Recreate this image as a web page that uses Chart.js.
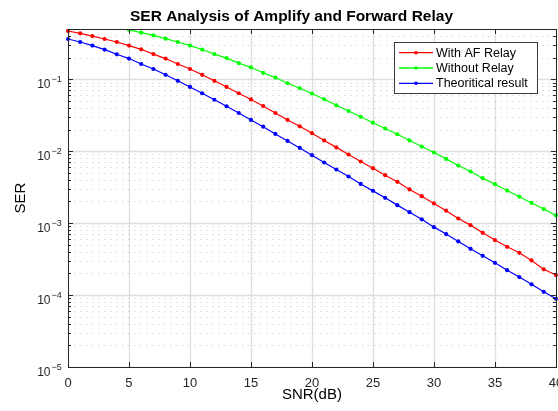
<!DOCTYPE html>
<html>
<head>
<meta charset="utf-8">
<script src="https://cdn.jsdelivr.net/npm/chart.js@4.4.1/dist/chart.umd.min.js"></script>
<style>
html,body{margin:0;padding:0;background:#fff;}
#wrap{width:558px;height:411px;position:relative;}
</style>
</head>
<body>
<div id="wrap"><canvas id="c" width="558" height="411"></canvas></div>
<script>
// ---- data ----
const snrDb = [0,1,2,3,4,5,6,7,8,9,10,11,12,13,14,15,16,17,18,19,20,21,22,23,24,25,26,27,28,29,30,31,32,33,34,35,36,37,38,39,40];
const serWithAF = [0.469,0.435,0.399,0.363,0.330,0.294,0.261,0.224,0.194,0.163,0.139,0.1155,0.0953,0.0782,0.0639,0.0524,0.0425,0.0340,0.0272,0.0222,0.0178,0.0141,0.0113,0.0090,0.00719,0.00581,0.00464,0.00375,0.00294,0.00237,0.00188,0.00149,0.00116,0.000938,0.000733,0.000581,0.000469,0.000387,0.000303,0.000228,0.000190];
const serWithoutRelay = [0.65,0.62,0.59,0.56,0.525,0.487,0.445,0.408,0.367,0.330,0.294,0.259,0.224,0.197,0.168,0.146,0.123,0.1056,0.0880,0.0750,0.0633,0.0528,0.0435,0.0362,0.0301,0.0249,0.0207,0.0172,0.0141,0.0116,0.00959,0.00782,0.00633,0.00522,0.00422,0.00348,0.00284,0.00233,0.00191,0.00157,0.00128];
const serTheory = [0.363,0.330,0.294,0.2586,0.2225,0.194,0.163,0.139,0.1155,0.0953,0.0782,0.0639,0.0519,0.0422,0.0340,0.0272,0.0219,0.0174,0.0139,0.0111,0.00880,0.00697,0.00557,0.00445,0.00351,0.00281,0.00225,0.00178,0.00142,0.00113,0.000880,0.000704,0.000557,0.000440,0.000351,0.000281,0.000222,0.000178,0.000141,0.000111,0.0000889];
const seriesNames = ['With AF Relay','Without Relay','Theoritical result'];
const xTickValues = [0,5,10,15,20,25,30,35,40];
const yDecadeValues = [1e-5,1e-4,1e-3,1e-2,1e-1];
const yDecadeExponents = ['\u22125','\u22124','\u22123','\u22122','\u22121'];
const chartTitle = 'SER Analysis of Amplify and Forward Relay';
const xAxisLabel = 'SNR(dB)';
const yAxisLabel = 'SER';

const FONT = '"Liberation Sans", Arial, Helvetica, sans-serif';
const AXIS_COLOR = '#262626';

function pts(ys){ return snrDb.map((x,i)=>({x:x,y:ys[i]})); }

const matlabLook = {
  id:'matlabLook',
  beforeDatasetsDraw(chart){
    const {ctx, chartArea:a, scales:{x,y}} = chart;
    ctx.save();
    ctx.beginPath(); ctx.rect(a.left,a.top,a.right-a.left,a.bottom-a.top); ctx.clip();
    // minor dotted horizontal grid
    ctx.strokeStyle = '#d8d8d8'; ctx.lineWidth = 1; ctx.setLineDash([1.5,4.5]);
    yDecadeValues.forEach(d=>{
      for(let k=2;k<=9;k++){
        const v=k*d; if(v>y.max) continue;
        const py=Math.round(y.getPixelForValue(v))+0.5;
        ctx.beginPath(); ctx.moveTo(a.left,py); ctx.lineTo(a.right,py); ctx.stroke();
      }
    });
    ctx.setLineDash([]);
    ctx.strokeStyle = '#dedede'; ctx.lineWidth = 1.3;
    yDecadeValues.forEach(v=>{
      const py=Math.round(y.getPixelForValue(v))+0.5;
      ctx.beginPath(); ctx.moveTo(a.left,py); ctx.lineTo(a.right,py); ctx.stroke();
    });
    xTickValues.forEach(v=>{
      const px=Math.round(x.getPixelForValue(v))+0.5;
      ctx.beginPath(); ctx.moveTo(px,a.top); ctx.lineTo(px,a.bottom); ctx.stroke();
    });
    ctx.restore();
  },
  afterDatasetsDraw(chart){
    const {ctx, chartArea:a, scales:{x,y}} = chart;
    ctx.save();
    ctx.strokeStyle = AXIS_COLOR; ctx.lineWidth = 1;
    // box
    ctx.strokeRect(Math.round(a.left)+0.5, Math.round(a.top)+0.5, Math.round(a.right-a.left), Math.round(a.bottom-a.top));
    // inward ticks
    ctx.beginPath();
    xTickValues.forEach(v=>{
      const px=Math.round(x.getPixelForValue(v))+0.5;
      ctx.moveTo(px,a.bottom); ctx.lineTo(px,a.bottom-5);
      ctx.moveTo(px,a.top); ctx.lineTo(px,a.top+5);
    });
    yDecadeValues.forEach(d=>{
      const py=Math.round(y.getPixelForValue(d))+0.5;
      ctx.moveTo(a.left,py); ctx.lineTo(a.left+5,py);
      ctx.moveTo(a.right,py); ctx.lineTo(a.right-5,py);
      for(let k=2;k<=9;k++){
        const v=k*d; if(v>y.max) continue;
        const q=Math.round(y.getPixelForValue(v))+0.5;
        ctx.moveTo(a.left,q); ctx.lineTo(a.left+3,q);
        ctx.moveTo(a.right,q); ctx.lineTo(a.right-3,q);
      }
    });
    ctx.stroke();
    // y tick labels 10^n
    ctx.fillStyle = AXIS_COLOR;
    yDecadeValues.forEach((v,i)=>{
      const py=y.getPixelForValue(v);
      ctx.font = '12px '+FONT; ctx.textAlign='right'; ctx.textBaseline='alphabetic';
      ctx.fillText('10', 50.5, py+9);
      ctx.font = '9px '+FONT; ctx.textAlign='left';
      ctx.fillText(yDecadeExponents[i], 51.5, py+3);
    });
    // title
    ctx.fillStyle = '#000';
    ctx.font = 'bold 15.5px '+FONT; ctx.textAlign='center'; ctx.textBaseline='middle';
    ctx.fillText(chartTitle, 291.5, 17);
    // legend
    const lx=394, ly=42, lw=143, lh=51;
    ctx.fillStyle='#fff'; ctx.fillRect(lx,ly,lw,lh);
    ctx.strokeStyle='#3a3a3a'; ctx.lineWidth=1;
    ctx.strokeRect(lx+0.5,ly+0.5,lw,lh);
    chart.data.datasets.forEach((ds,i)=>{
      const cy = ly + 10.7 + i*15.3;
      ctx.strokeStyle = ds.borderColor; ctx.lineWidth = 1.3;
      ctx.beginPath(); ctx.moveTo(lx+5,cy); ctx.lineTo(lx+39,cy); ctx.stroke();
      ctx.fillStyle = ds.borderColor;
      ctx.beginPath(); ctx.arc(lx+22,cy,1.8,0,Math.PI*2); ctx.fill();
      ctx.fillStyle='#000'; ctx.font='12.5px '+FONT; ctx.textAlign='left'; ctx.textBaseline='middle';
      ctx.fillText(ds.label, lx+42, cy+0.5);
    });
    ctx.restore();
  }
};

const mk = (label,color,ys)=>({
  label:label, data:pts(ys), borderColor:color, backgroundColor:color,
  borderWidth:1.2, pointRadius:2.1, pointHoverRadius:2.1, pointBorderWidth:0,
  pointBackgroundColor:color, tension:0, clip:{left:4,right:4,top:0,bottom:4}
});

new Chart(document.getElementById('c'), {
  type:'line',
  data:{ datasets:[
    mk(seriesNames[0],'#ff0000',serWithAF),
    mk(seriesNames[1],'#00ff00',serWithoutRelay),
    mk(seriesNames[2],'#0000ff',serTheory)
  ]},
  options:{
    responsive:false, animation:false, devicePixelRatio:1,
    layout:{padding:{top:29,right:2,left:0,bottom:0}},
    plugins:{legend:{display:false}, title:{display:false}, tooltip:{enabled:false}},
    scales:{
      x:{
        type:'linear', min:0, max:40,
        afterBuildTicks:s=>{ s.ticks = xTickValues.map(v=>({value:v})); },
        grid:{display:false, drawTicks:false}, border:{display:false},
        ticks:{font:{size:13,family:FONT}, color:AXIS_COLOR, padding:9, maxRotation:0, autoSkip:false},
        title:{display:true, text:xAxisLabel, color:'#000', font:{size:15,family:FONT}, padding:{top:0,bottom:7}},
        afterFit:s=>{ s.height=44; s.paddingLeft=0; s.paddingRight=0; }
      },
      y:{
        type:'logarithmic', min:1e-5, max:0.5,
        afterBuildTicks:s=>{ s.ticks = yDecadeValues.map(v=>({value:v})); },
        grid:{display:false, drawTicks:false}, border:{display:false},
        ticks:{display:false},
        title:{display:true, text:yAxisLabel, color:'#000', font:{size:15,family:FONT}, padding:{top:12,bottom:0}},
        afterFit:s=>{ s.width=68; }
      }
    }
  },
  plugins:[matlabLook]
});
</script>
</body>
</html>
